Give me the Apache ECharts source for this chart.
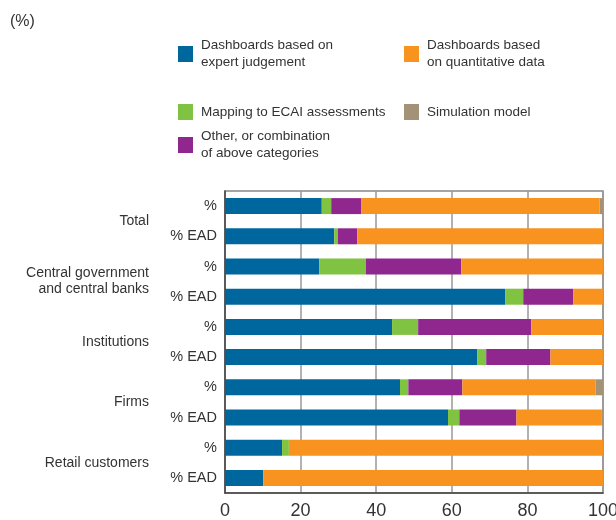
<!DOCTYPE html>
<html>
<head>
<meta charset="utf-8">
<script src="https://cdn.jsdelivr.net/npm/echarts@6/dist/echarts.min.js"></script>
<style>
  html, body { margin: 0; padding: 0; background: #fff; }
  #chart { width: 616px; height: 520px; }
</style>
</head>
<body>
<div id="chart"></div>
<script>
// one row per bar, top to bottom
var rowIds = ['Total|%', 'Total|% EAD', 'CG|%', 'CG|% EAD', 'Inst|%', 'Inst|% EAD',
  'Firms|%', 'Firms|% EAD', 'Retail|%', 'Retail|% EAD'];
var groupLabels = ['Total', 'Central government\nand central banks', 'Institutions', 'Firms', 'Retail customers'];
var xTicks = [0, 20, 40, 60, 80, 100];

var expert = [25.6, 28.9, 24.9, 74.1, 44.2, 66.7, 46.3, 59.0, 15.1, 10.1];
var ecai = [2.5, 1.0, 12.4, 4.8, 6.9, 2.4, 2.2, 3.0, 1.8, 0];
var other = [7.9, 5.1, 25.2, 13.2, 29.9, 17.0, 14.3, 15.1, 0, 0];
var quant = [63.1, 65.0, 37.5, 7.9, 19.0, 13.9, 35.2, 22.6, 83.1, 89.9];
var simul = [0.9, 0, 0, 0, 0, 0, 2.0, 0.3, 0, 0];

var names = {
  expert: 'Dashboards based on\nexpert judgement',
  quant: 'Dashboards based\non quantitative data',
  ecai: 'Mapping to ECAI assessments',
  simul: 'Simulation model',
  other: 'Other, or combination\nof above categories'
};
var colors = {
  expert: '#00679e',
  quant: '#f7931e',
  ecai: '#80c242',
  simul: '#a39276',
  other: '#8f278f'
};

var font = '"Liberation Sans", Arial, sans-serif';

function bar(key, data) {
  return {
    name: names[key],
    type: 'bar',
    stack: 'all',
    barWidth: 16,
    data: data,
    itemStyle: { color: colors[key] },
    emphasis: { disabled: true },
    silent: true
  };
}

function legendAt(key, left, top, twoLines) {
  return {
    data: [names[key]],
    left: left,
    top: top,
    padding: 0,
    itemWidth: 15,
    itemHeight: 16,
    icon: 'rect',
    selectedMode: false,
    textStyle: {
      fontFamily: font,
      fontSize: 13.5,
      color: '#333',
      lineHeight: 17,
      padding: twoLines ? [17, 0, 0, 3] : [0, 0, 0, 3]
    }
  };
}

var myChart = echarts.init(document.getElementById('chart'));
myChart.setOption({
  animation: false,
  title: {
    text: '(%)',
    left: 10,
    top: 14,
    padding: 0,
    textStyle: { fontFamily: font, fontSize: 16, fontWeight: 'normal', color: '#333' }
  },
  legend: [
    legendAt('expert', 178, 28.5, true),
    legendAt('quant', 404, 28.5, true),
    legendAt('ecai', 178, 103.5, false),
    legendAt('simul', 404, 103.5, false),
    legendAt('other', 178, 119.5, true)
  ],
  grid: {
    left: 225,
    right: 13,
    top: 191,
    bottom: 27,
    containLabel: false,
    outerBoundsMode: 'none',
    show: true,
    borderColor: '#888',
    borderWidth: 1.5
  },
  xAxis: {
    type: 'value',
    min: 0,
    max: 100,
    interval: 20,
    axisLine: { show: true, lineStyle: { color: '#444', width: 1.5 } },
    axisTick: { show: false },
    splitLine: { show: true, lineStyle: { color: '#999', width: 1.5 } },
    axisLabel: {
      fontFamily: font,
      fontSize: 18,
      color: '#333',
      margin: 9,
      formatter: function (v) { return xTicks.indexOf(v) >= 0 ? String(v) : ''; }
    }
  },
  yAxis: [
    {
      type: 'category',
      inverse: true,
      data: rowIds,
      axisLine: { show: true, lineStyle: { color: '#444', width: 1.5 } },
      axisTick: { show: false },
      axisLabel: {
        fontFamily: font,
        fontSize: 14.5,
        color: '#333',
        margin: 8,
        formatter: function (v) { return v.split('|')[1]; }
      }
    },
    {
      type: 'category',
      inverse: true,
      position: 'left',
      offset: 68,
      data: groupLabels,
      axisLine: { show: false },
      axisTick: { show: false },
      splitLine: { show: false },
      axisLabel: {
        fontFamily: font,
        fontSize: 14,
        color: '#333',
        margin: 8,
        lineHeight: 16,
        align: 'right'
      }
    }
  ],
  series: [
    bar('expert', expert),
    bar('ecai', ecai),
    bar('other', other),
    bar('quant', quant),
    bar('simul', simul)
  ]
});
</script>
</body>
</html>
